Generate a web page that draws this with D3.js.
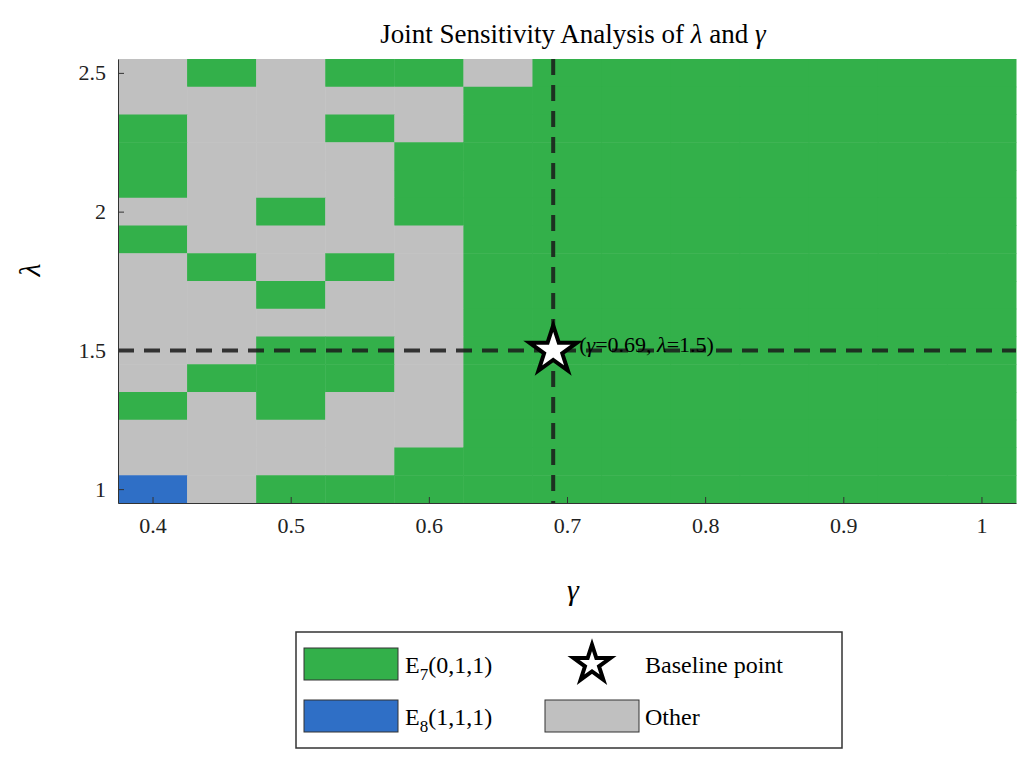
<!DOCTYPE html>
<html><head><meta charset="utf-8">
<script src="https://cdn.jsdelivr.net/npm/d3@7"></script>
<style>body{margin:0;background:#fff}text{font-family:"Liberation Serif","DejaVu Serif",serif}</style>
</head><body><svg width="1032" height="764"></svg>
<script>
var gammas = [0.4,0.45,0.5,0.55,0.6,0.65,0.7,0.75,0.8,0.85,0.9,0.95,1.0];
var lambdas = [2.5,2.4,2.3,2.2,2.1,2.0,1.9,1.8,1.7,1.6,1.5,1.4,1.3,1.2,1.1,1.0];
// columns 0.4..0.65 per row (top to bottom); G=E7, B=E8, O=other; columns >=0.7 all E7
var leftRows = [
  "OGOGGO","OOOOOG","GOOGOG","GOOOGG","GOOOGG","OOGOGG","GOOOOG","OGOGOG",
  "OOGOOG","OOOOOG","OOGGOG","OGGGOG","GOGOOG","OOOOOG","OOOOGG","BOGGGG"
];
var xTicks = [0.4,0.5,0.6,0.7,0.8,0.9,1];
var yTicks = [1,1.5,2,2.5];
var baseline = {g:0.69, l:1.5};
var colors = {G:"#33b04a", B:"#2f6fc6", O:"#c0c0c0"};

var cells = [];
lambdas.forEach(function(l, i){
  gammas.forEach(function(g, j){
    var k = j < 6 ? leftRows[i][j] : "G";
    cells.push({g:g, l:l, k:k});
  });
});

var svg = d3.select("svg");
var x = d3.scaleLinear().domain([0.375,1.025]).range([118,1016]);
var y = d3.scaleLinear().domain([0.95,2.55]).range([503,59]);
var cw = x(0.05)-x(0), ch = y(0.95)-y(1.05);

svg.selectAll("rect.cell").data(cells).enter().append("rect")
  .attr("x", function(d){return x(d.g)-cw/2;})
  .attr("y", function(d){return y(d.l+0.05);})
  .attr("width", cw+0.5).attr("height", ch+0.5)
  .style("fill", function(d){return colors[d.k];});

svg.append("line").attr("x1",x(0.375)).attr("x2",x(1.025)).attr("y1",y(1.5)).attr("y2",y(1.5))
  .style("stroke","#1a1a1a").style("stroke-width",4).style("stroke-dasharray","16,10").style("opacity",0.85);
svg.append("line").attr("x1",x(0.69)).attr("x2",x(0.69)).attr("y1",y(2.55)).attr("y2",y(0.95))
  .style("stroke","#1a1a1a").style("stroke-width",4).style("stroke-dasharray","16,10").style("opacity",0.85);

var star = d3.symbol().type(d3.symbolStar);
function drawStar(cx, cy, s){
  svg.append("path").attr("d", star.size(s)()).attr("transform","translate("+cx+","+cy+")")
    .style("fill","#fff").style("stroke","#000").style("stroke-width",4).style("stroke-linejoin","miter");
}
drawStar(x(baseline.g), y(baseline.l), 700);
svg.append("text").attr("x", x(baseline.g)+26).attr("y", y(baseline.l)+2).style("font-size","22px")
  .html('(<tspan font-style="italic">γ</tspan>=0.69, <tspan font-style="italic">λ</tspan>=1.5)');

var xa = svg.append("g").attr("transform","translate(0,503)")
  .call(d3.axisBottom(x).tickValues(xTicks).tickSizeInner(-6).tickSizeOuter(0).tickPadding(14).tickFormat(d3.format("")));
var ya = svg.append("g").attr("transform","translate(118,0)")
  .call(d3.axisLeft(y).tickValues(yTicks).tickSizeInner(-6).tickSizeOuter(0).tickPadding(12).tickFormat(d3.format("")));
[xa, ya].forEach(function(a){
  a.selectAll("text").style("font-size","22px").style("fill","#222").style("font-family","Liberation Serif");
  a.select(".domain").style("stroke","#333");
  a.selectAll(".tick line").style("stroke","#333");
});

svg.append("text").attr("x",573).attr("y",43).attr("text-anchor","middle").style("font-size","27px")
  .html('Joint Sensitivity Analysis of <tspan font-style="italic">λ</tspan> and <tspan font-style="italic">γ</tspan>');
svg.append("text").attr("x",573).attr("y",600).attr("text-anchor","middle").style("font-size","30px").style("font-style","italic").text("γ");
svg.append("text").attr("transform","translate(40,270) rotate(-90)").attr("text-anchor","middle").style("font-size","30px").style("font-style","italic").text("λ");

// legend
var lg = svg.append("g");
lg.append("rect").attr("x",296).attr("y",632).attr("width",546).attr("height",116).style("fill","#fff").style("stroke","#333").style("stroke-width",1.5);
function swatch(sx, sy, c){
  lg.append("rect").attr("x",sx).attr("y",sy).attr("width",94).attr("height",32).style("fill",c).style("stroke","#333").style("stroke-width",1);
}
swatch(304,648,colors.G); swatch(304,700,colors.B); swatch(545,700,colors.O);
lg.append("text").attr("x",405).attr("y",673).style("font-size","24px").html('E<tspan dy="7" font-size="17px">7</tspan><tspan dy="-7">(0,1,1)</tspan>');
lg.append("text").attr("x",405).attr("y",725).style("font-size","24px").html('E<tspan dy="7" font-size="17px">8</tspan><tspan dy="-7">(1,1,1)</tspan>');
lg.append("text").attr("x",645).attr("y",673).style("font-size","24px").text("Baseline point");
lg.append("text").attr("x",645).attr("y",725).style("font-size","24px").text("Other");
drawStar(592, 664, 420);
</script></body></html>
